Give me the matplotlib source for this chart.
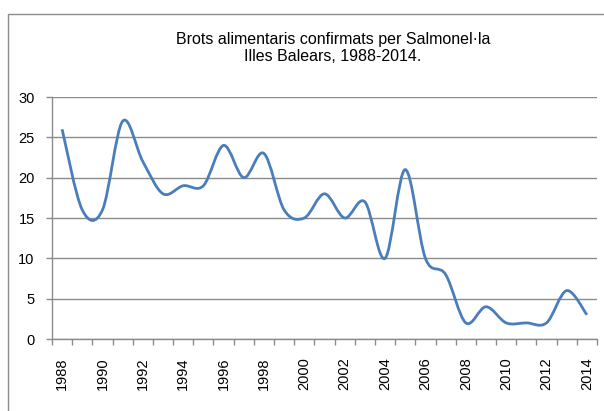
import numpy as np
import matplotlib.pyplot as plt
from matplotlib.path import Path
from matplotlib.patches import PathPatch, Rectangle

plt.rcParams['font.family'] = ['Liberation Sans', 'DejaVu Sans']

# --- dades ---
anys = list(range(1988, 2015))
brots = [26, 16, 16, 27, 22, 18, 19, 19, 24, 20, 23, 16, 15,
         18, 15, 17, 10, 21, 10, 8, 2, 4, 2, 2, 2, 6, 3]
etiquetes_x = [str(a) for a in anys[::2]]
titol = "Brots alimentaris confirmats per Salmonel\u00b7la\nIlles Balears, 1988-2014."


def smooth_path(xs, ys):
    # línia suavitzada a l'estil Excel (Bezier tipus Catmull-Rom)
    pts = np.column_stack([xs, ys]).astype(float)
    verts = [pts[0]]
    codes = [Path.MOVETO]
    n = len(pts)
    for i in range(n - 1):
        p0 = pts[max(i - 1, 0)]
        p1 = pts[i]
        p2 = pts[i + 1]
        p3 = pts[min(i + 2, n - 1)]
        verts += [p1 + (p2 - p0) / 6, p2 - (p3 - p1) / 6, p2]
        codes += [Path.CURVE4] * 3
    return Path(verts, codes)


fig = plt.figure(figsize=(6.04, 4.11), dpi=100)
ax = fig.add_axes([52 / 604, 1 - 339 / 411, 545 / 604, 242 / 411])

# marc del gràfic
fig.patches.append(Rectangle((8 / 604, -0.1), 1.2, 1 - 14 / 411 + 0.1,
                             transform=fig.transFigure, fill=False,
                             edgecolor='#8c8c8c', linewidth=1.0))

x = np.arange(len(anys))
ax.add_patch(PathPatch(smooth_path(x, brots), facecolor='none',
                       edgecolor='#4a7ebb', linewidth=2.0, capstyle='butt', zorder=3))

ax.set_xlim(-0.5, len(anys) - 0.5)
ax.set_ylim(0, 30)
ax.set_yticks(range(0, 31, 5))
ax.yaxis.grid(True, color='#8c8c8c', linewidth=1.0)
ax.set_axisbelow(True)

ax.set_xticks(x[::2])
ax.set_xticklabels(etiquetes_x, rotation=90, fontsize=10.5)
ax.set_xticks(np.arange(-0.5, len(anys)), minor=True)
ax.tick_params(axis='x', which='major', length=0, pad=13)
ax.tick_params(axis='x', which='minor', length=4, color='#8c8c8c', width=1.0)
ax.tick_params(axis='y', length=4.5, color='#8c8c8c', width=1.0, labelsize=10.5, pad=8)

for s in ['top', 'right']:
    ax.spines[s].set_visible(False)
for s in ['left', 'bottom']:
    ax.spines[s].set_color('#8c8c8c')
    ax.spines[s].set_linewidth(1.0)

fig.text(333 / 604, 1 - 48 / 411, titol, ha='center', va='center',
         fontsize=11.5, linespacing=1.15)

fig.savefig('out.png', dpi=100)
